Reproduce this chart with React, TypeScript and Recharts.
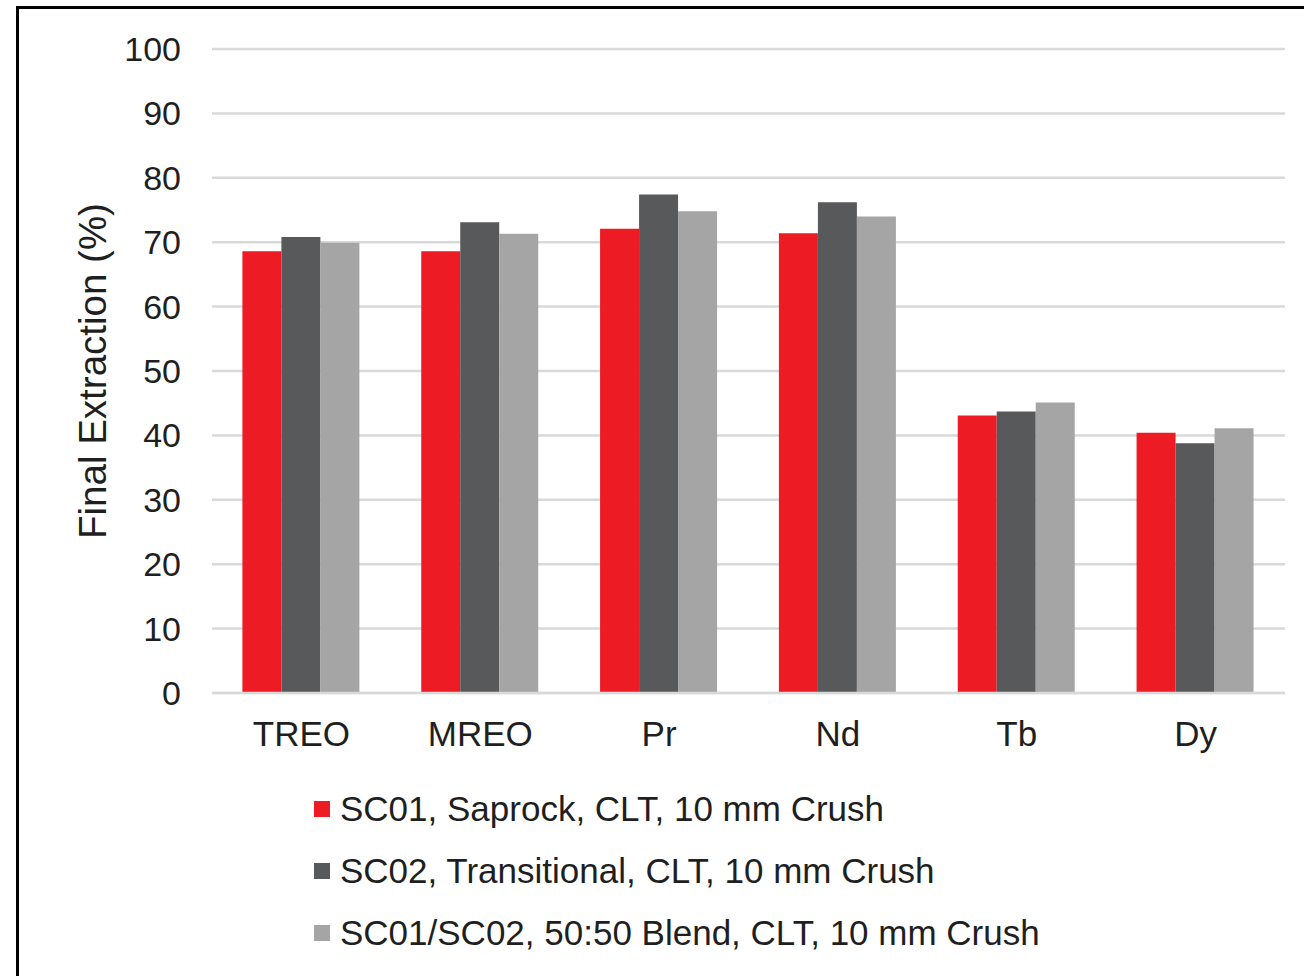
import React from "react";
import { BarChart, Bar, XAxis, YAxis, CartesianGrid, Legend } from "recharts";

const categories = ["TREO", "MREO", "Pr", "Nd", "Tb", "Dy"];
const sc01 = [68.6, 68.6, 72.1, 71.4, 43.1, 40.4];
const sc02 = [70.8, 73.1, 77.4, 76.2, 43.7, 38.8];
const blend = [69.9, 71.3, 74.8, 74.0, 45.1, 41.1];
const yTicks = [0, 10, 20, 30, 40, 50, 60, 70, 80, 90, 100];

const seriesNames = [
  "SC01, Saprock, CLT, 10 mm Crush",
  "SC02, Transitional, CLT, 10 mm Crush",
  "SC01/SC02, 50:50 Blend, CLT, 10 mm Crush",
];
const colors = ["#ED1C24", "#58595B", "#A5A5A5"];

const data = categories.map((name, i) => ({
  name,
  sc01: sc01[i],
  sc02: sc02[i],
  blend: blend[i],
}));

const font = "'Liberation Sans', Arial, sans-serif";
const textColor = "#1f1f1f";

const LegendBox = (props: any) => {
  const items = [...(props.payload || [])].sort(
    (a: any, b: any) => seriesNames.indexOf(a.value) - seriesNames.indexOf(b.value)
  );
  return (
    <div style={{ fontFamily: font, fontSize: 35, color: textColor }}>
      {items.map((entry: any) => (
        <div
          key={entry.value}
          style={{ display: "flex", alignItems: "center", height: 62 }}
        >
          <span
            style={{
              display: "inline-block",
              width: 16,
              height: 16,
              background: entry.color,
              marginRight: 10,
            }}
          />
          <span style={{ whiteSpace: "nowrap" }}>{entry.value}</span>
        </div>
      ))}
    </div>
  );
};

const AxisTitle = (props: any) => {
  const { viewBox } = props;
  const cx = viewBox.x + 92;
  const cy = viewBox.y + viewBox.height / 2;
  return (
    <text
      x={cx}
      y={cy}
      transform={`rotate(-90, ${cx}, ${cy})`}
      textAnchor="middle"
      dominantBaseline="central"
      fontSize={38.5}
      fontFamily={font}
      fill={textColor}
    >
      Final Extraction (%)
    </text>
  );
};

export default function App() {
  return (
    <div
      style={{
        position: "absolute",
        left: 0,
        top: 0,
        width: 1304,
        height: 976,
        overflow: "hidden",
        background: "#fff",
      }}
    >
      <div
        style={{
          position: "absolute",
          left: 16,
          top: 6,
          width: 1400,
          height: 1100,
          border: "3px solid #000",
        }}
      />
      <div style={{ position: "absolute", left: 0, top: 0 }}>
        <BarChart
          width={1304}
          height={976}
          data={data}
          margin={{ top: 49, right: 19, bottom: 253, left: 0 }}
          barCategoryGap="17%"
          barGap={0}
        >
          <CartesianGrid vertical={false} stroke="#D9D9D9" strokeWidth={2.5} />
          <XAxis
            dataKey="name"
            height={30}
            axisLine={{ stroke: "#D9D9D9", strokeWidth: 2.5 }}
            tickLine={false}
            tickSize={0}
            tickMargin={28}
            tick={{ fontSize: 35, fontFamily: font, fill: textColor }}
          />
          <YAxis
            width={212}
            domain={[0, 100]}
            ticks={yTicks}
            axisLine={false}
            tickLine={false}
            tickSize={0}
            tickMargin={31}
            tick={{ fontSize: 34, fontFamily: font, fill: textColor }}
            label={<AxisTitle />}
          />
          <Legend
            layout="vertical"
            align="center"
            verticalAlign="middle"
            wrapperStyle={{ left: 314, top: 778, width: "auto" }}
            content={<LegendBox />}
          />
          <Bar dataKey="sc01" name={seriesNames[0]} fill={colors[0]} isAnimationActive={false} />
          <Bar dataKey="sc02" name={seriesNames[1]} fill={colors[1]} isAnimationActive={false} />
          <Bar dataKey="blend" name={seriesNames[2]} fill={colors[2]} isAnimationActive={false} />
        </BarChart>
      </div>
    </div>
  );
}
